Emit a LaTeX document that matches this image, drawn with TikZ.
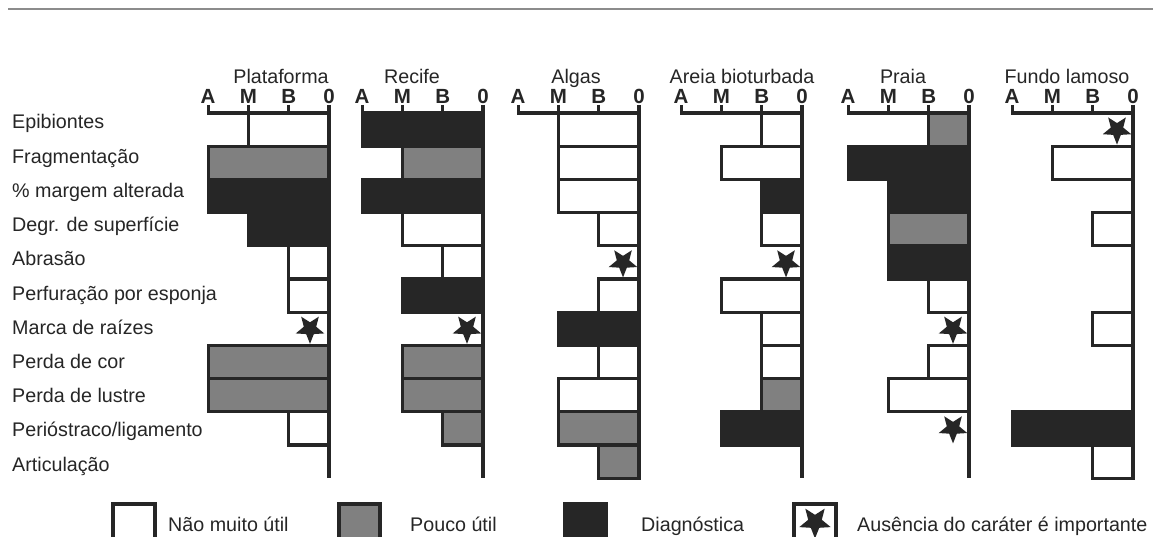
\documentclass[tikz,border=0pt]{standalone}
\usepackage{fontspec}
\setmainfont{Liberation Sans}
\usetikzlibrary{shapes.geometric}
\definecolor{dk}{HTML}{262626}
\definecolor{gy}{HTML}{808080}
\definecolor{toplinecol}{HTML}{8C8C8C}
\newcommand\rowtop{113}
\newcommand\rowh{33.2}
\newcommand\unitw{40.3}
\newcommand\mybar[4]{%
  \pgfmathsetmacro\myya{\rowtop+\rowh*(#2-1)}%
  \pgfmathsetmacro\myyb{\myya+\rowh}%
  \pgfmathsetmacro\myxa{#1-\unitw*#3}%
  \draw[#4] (\myxa,\myya) rectangle (#1,\myyb);%
}
\newcommand\mystar[2]{%
  \pgfmathsetmacro\myys{\rowtop+\rowh*(#2-0.5)}%
  \pgfmathsetmacro\myxs{#1-16}%
  \node[starmark] at (\myxs,\myys) {};%
}
\newcommand\myaxis[2]{%
  \pgfmathsetmacro\myxA{#1-3*\unitw}%
  \pgfmathsetmacro\myxM{#1-2*\unitw}%
  \pgfmathsetmacro\myxB{#1-\unitw}%
  \pgfmathsetmacro\myyend{\rowtop+11*\rowh}%
  \draw[axisline] (\myxA,105) -- (\myxA,\rowtop) -- (#1,\rowtop);
  \draw[axisline] (\myxM,105) -- (\myxM,\rowtop);
  \draw[axisline] (\myxB,105) -- (\myxB,\rowtop);
  \draw[axisline] (#1,105) -- (#1,\myyend);
  \node[ticklab] (#2A) at (\myxA,104) {A};
  \node[ticklab] (#2M) at (\myxM,104) {M};
  \node[ticklab] (#2B) at (\myxB,104) {B};
  \node[ticklab] (#20) at (#1,104) {0};
}
\begin{document}
\begin{tikzpicture}[x=1pt,y=-1pt,
  bar/.style={draw=dk, line width=3.2pt, line join=miter},
  wbar/.style={bar, fill=white},
  gbar/.style={bar, fill=gy},
  kbar/.style={bar, fill=dk},
  axisline/.style={draw=dk, line width=3.2pt, line join=miter},
  starmark/.style={star, star points=5, star point ratio=2.3, minimum size=30pt, inner sep=0pt, fill=dk, rotate=36},
  txt/.style={font=\fontsize{19.7}{22}\selectfont, inner sep=0pt, text=dk},
  rowlabel/.style={txt, anchor=base west},
  coltitle/.style={txt, anchor=base},
  ticklab/.style={font=\fontsize{20.5}{22}\selectfont\bfseries, inner sep=0pt, anchor=base, text=dk},
  legtext/.style={txt, anchor=base west}
]
\useasboundingbox (0,0) rectangle (1153,537);
\fill[white] (0,0) rectangle (1153,537);
\draw[toplinecol, line width=2pt] (8,9.5) -- (1153,9.5);

% column titles
\node[coltitle] (t1) at (281,84) {Plataforma};
\node[coltitle] (t2) at (412,84) {Recife};
\node[coltitle] (t3) at (576,84) {Algas};
\node[coltitle] (t4) at (742,84) {Areia bioturbada};
\node[coltitle] (t5) at (903,84) {Praia};
\node[coltitle] (t6) at (1067,84) {Fundo lamoso};

% row labels
\foreach \i/\t in {1/Epibiontes,2/Fragmentação,3/\% margem alterada,4/Degr. de superfície,5/Abrasão,6/Perfuração por esponja,7/Marca de raízes,8/Perda de cor,9/Perda de lustre,10/Perióstraco\slash ligamento,11/Articulação}{
  \pgfmathsetmacro\yl{122+34.2*(\i-1)+7}
  \node[rowlabel] (r\i) at (12,\yl) {\t};
}

% Plataforma
\foreach \r/\l/\s in {1/2/wbar,2/3/gbar,3/3/kbar,4/2/kbar,5/1/wbar,6/1/wbar,8/3/gbar,9/3/gbar,10/1/wbar}{\mybar{329}{\r}{\l}{\s}}
\mystar{326}{7}
% Recife
\foreach \r/\l/\s in {1/3/kbar,2/2/gbar,3/3/kbar,4/2/wbar,5/1/wbar,6/2/kbar,8/2/gbar,9/2/gbar,10/1/gbar}{\mybar{483}{\r}{\l}{\s}}
\mystar{483}{7}
% Algas
\foreach \r/\l/\s in {1/2/wbar,2/2/wbar,3/2/wbar,4/1/wbar,6/1/wbar,7/2/kbar,8/1/wbar,9/2/wbar,10/2/gbar,11/1/gbar}{\mybar{639}{\r}{\l}{\s}}
\mystar{639}{5}
% Areia bioturbada
\foreach \r/\l/\s in {1/1/wbar,2/2/wbar,3/1/kbar,4/1/wbar,6/2/wbar,7/1/wbar,8/1/wbar,9/1/gbar,10/2/kbar}{\mybar{802}{\r}{\l}{\s}}
\mystar{802}{5}
% Praia
\foreach \r/\l/\s in {1/1/gbar,2/3/kbar,3/2/kbar,4/2/gbar,5/2/kbar,6/1/wbar,8/1/wbar,9/2/wbar}{\mybar{969}{\r}{\l}{\s}}
\mystar{969}{7}
\mystar{969}{10}
% Fundo lamoso
\foreach \r/\l/\s in {2/2/wbar,4/1/wbar,7/1/wbar,10/3/kbar,11/1/wbar}{\mybar{1133}{\r}{\l}{\s}}
\mystar{1133}{1}

% axes
\myaxis{329}{pl}
\myaxis{483}{re}
\myaxis{639}{al}
\myaxis{802}{ar}
\myaxis{969}{pr}
\myaxis{1133}{fu}

% legend
\draw[wbar] (113,504) rectangle (155,545);
\node[legtext] (l1) at (168,531) {Não muito útil};
\draw[gbar] (339,504) rectangle (380,545);
\node[legtext] (l2) at (410,531) {Pouco útil};
\draw[kbar] (565,504) rectangle (606,545);
\node[legtext] (l3) at (641,531) {Diagnóstica};
\draw[wbar] (794,504) rectangle (836,545);
\node[starmark, minimum size=33pt] (ls) at (815,522) {};
\node[legtext] (l4) at (857,531) {Ausência do caráter é importante};
\end{tikzpicture}
\end{document}
